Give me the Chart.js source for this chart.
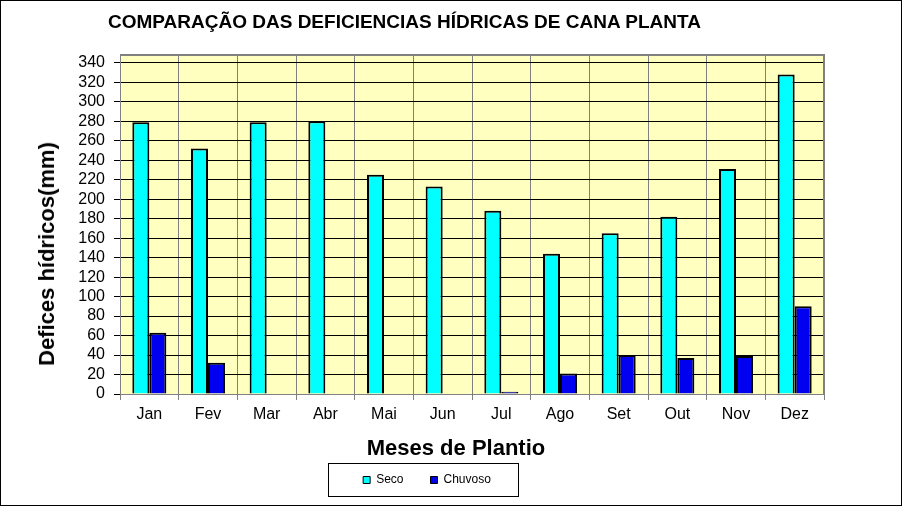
<!DOCTYPE html>
<html><head><meta charset="utf-8">
<script src="https://cdn.jsdelivr.net/npm/chart.js@4/dist/chart.umd.min.js"></script>
<style>
body{margin:0;background:#fff;}
#wrap{position:relative;width:902px;height:506px;}
.txt{position:absolute;font-family:"Liberation Sans",Arial,sans-serif;font-weight:bold;color:#000;white-space:nowrap;}
#title{left:108px;top:11px;font-size:19px;}
#ytitle{left:47px;top:254px;font-size:22px;transform:translate(-50%,-50%) rotate(-90deg);}
#xtitle{left:456px;top:448px;font-size:22px;transform:translate(-50%,-50%);}
canvas{position:absolute;left:0;top:0;}
</style></head>
<body>
<div id="wrap">
<canvas id="c" width="902" height="506"></canvas>
<div id="title" class="txt">COMPARAÇÃO DAS DEFICIENCIAS HÍDRICAS DE CANA PLANTA</div>
<div id="ytitle" class="txt"></div>
<div id="xtitle" class="txt"></div>
</div>
<script>
const categories = ["Jan","Fev","Mar","Abr","Mai","Jun","Jul","Ago","Set","Out","Nov","Dez"];
const seco = [279, 252, 279, 280, 225, 213, 188, 144, 165, 182, 231, 328];
const chuvoso = [63, 32, 0, 0, 0, 0, 2.4, 21, 40, 37, 39, 90];
const yTicks = [0,20,40,60,80,100,120,140,160,180,200,220,240,260,280,300,320,340];
const seriesNames = ["Seco", "Chuvoso"];
const yTitle = "Defices hídricos(mm)";
const xTitle = "Meses de Plantio";

document.getElementById('ytitle').textContent = yTitle;
document.getElementById('xtitle').textContent = xTitle;

const FONT = '"Liberation Sans", Arial, sans-serif';

const decor = {
  id: 'decor',
  beforeInit(chart) {
    const lg = chart.legend;
    if (lg) {
      const orig = lg.fit;
      lg.fit = function () { orig.call(this); this.height = 52; };
    }
  },
  afterLayout(chart) {
    const lg = chart.legend;
    if (lg) { lg.left += 15; lg.right += 15; lg.top += 3; lg.bottom += 3; }
  },
  beforeDraw(chart) {
    const {ctx, chartArea: a} = chart;
    ctx.save();
    ctx.fillStyle = '#fff';
    ctx.fillRect(0, 0, chart.width, chart.height);
    ctx.fillStyle = '#FFFFC0';
    ctx.fillRect(a.left, a.top, a.right - a.left, a.bottom - a.top);
    ctx.restore();
  },
  afterDraw(chart) {
    const {ctx, chartArea: a} = chart;
    ctx.save();
    ctx.strokeStyle = '#808080';
    ctx.lineWidth = 2;
    ctx.beginPath();
    ctx.moveTo(a.left, a.top); ctx.lineTo(a.right, a.top); ctx.lineTo(a.right, a.bottom);
    ctx.stroke();
    const lg = chart.legend;
    if (lg && lg.legendHitBoxes && lg.legendHitBoxes.length) {
      const hb = lg.legendHitBoxes;
      let minX = Infinity, maxX = -Infinity, minY = Infinity;
      hb.forEach(b => { minX = Math.min(minX, b.left); maxX = Math.max(maxX, b.left + b.width); minY = Math.min(minY, b.top); });
      ctx.strokeStyle = '#000';
      ctx.lineWidth = 1;
      ctx.strokeRect(Math.round(minX - 35) + 0.5, Math.round(minY - 11) + 0.5, Math.round(maxX - minX + 62), 33);
    }
    ctx.strokeStyle = '#000';
    ctx.lineWidth = 1;
    ctx.strokeRect(0.5, 0.5, chart.width - 1, chart.height - 1);
    ctx.restore();
  }
};

new Chart(document.getElementById('c'), {
  type: 'bar',
  data: {
    labels: categories,
    datasets: [
      {label: seriesNames[0], data: seco, backgroundColor: '#00FFFF', borderColor: '#000', borderWidth: 2},
      {label: seriesNames[1], data: chuvoso, backgroundColor: '#0000F0', borderColor: '#000', borderWidth: 2}
    ]
  },
  options: {
    responsive: false,
    animation: false,
    devicePixelRatio: 1,
    layout: {padding: {left: 0, right: 78, top: 55, bottom: 10}},
    datasets: {bar: {categoryPercentage: 0.58, barPercentage: 1}},
    plugins: {
      title: {display: false},
      tooltip: {enabled: false},
      legend: {
        position: 'bottom',
        labels: {
          boxWidth: 7, boxHeight: 7, padding: 27,
          color: '#000',
          font: {family: FONT, size: 12},
          generateLabels(chart) {
            return chart.data.datasets.map((d, i) => ({
              text: d.label, fillStyle: d.backgroundColor, strokeStyle: '#000', lineWidth: 1, datasetIndex: i, hidden: false
            }));
          }
        }
      }
    },
    scales: {
      x: {
        grid: {color: '#808080', lineWidth: 1, tickLength: 6, offset: true},
        border: {color: '#808080', width: 1},
        ticks: {color: '#000', font: {family: FONT, size: 16}, padding: 5},
        title: {display: false},
        afterFit(s) { s.height = 50; }
      },
      y: {
        min: 0, max: 348,
        ticks: {autoSkip: false, color: '#000', font: {family: FONT, size: 16}, padding: 9},
        afterBuildTicks(axis) { axis.ticks = yTicks.map(v => ({value: v})); },
        grid: {color: '#000', lineWidth: 1, tickLength: 6},
        border: {color: '#808080', width: 1},
        title: {display: false},
        afterFit(s) { s.width = 120; }
      }
    }
  },
  plugins: [decor]
});
</script>
</body></html>
